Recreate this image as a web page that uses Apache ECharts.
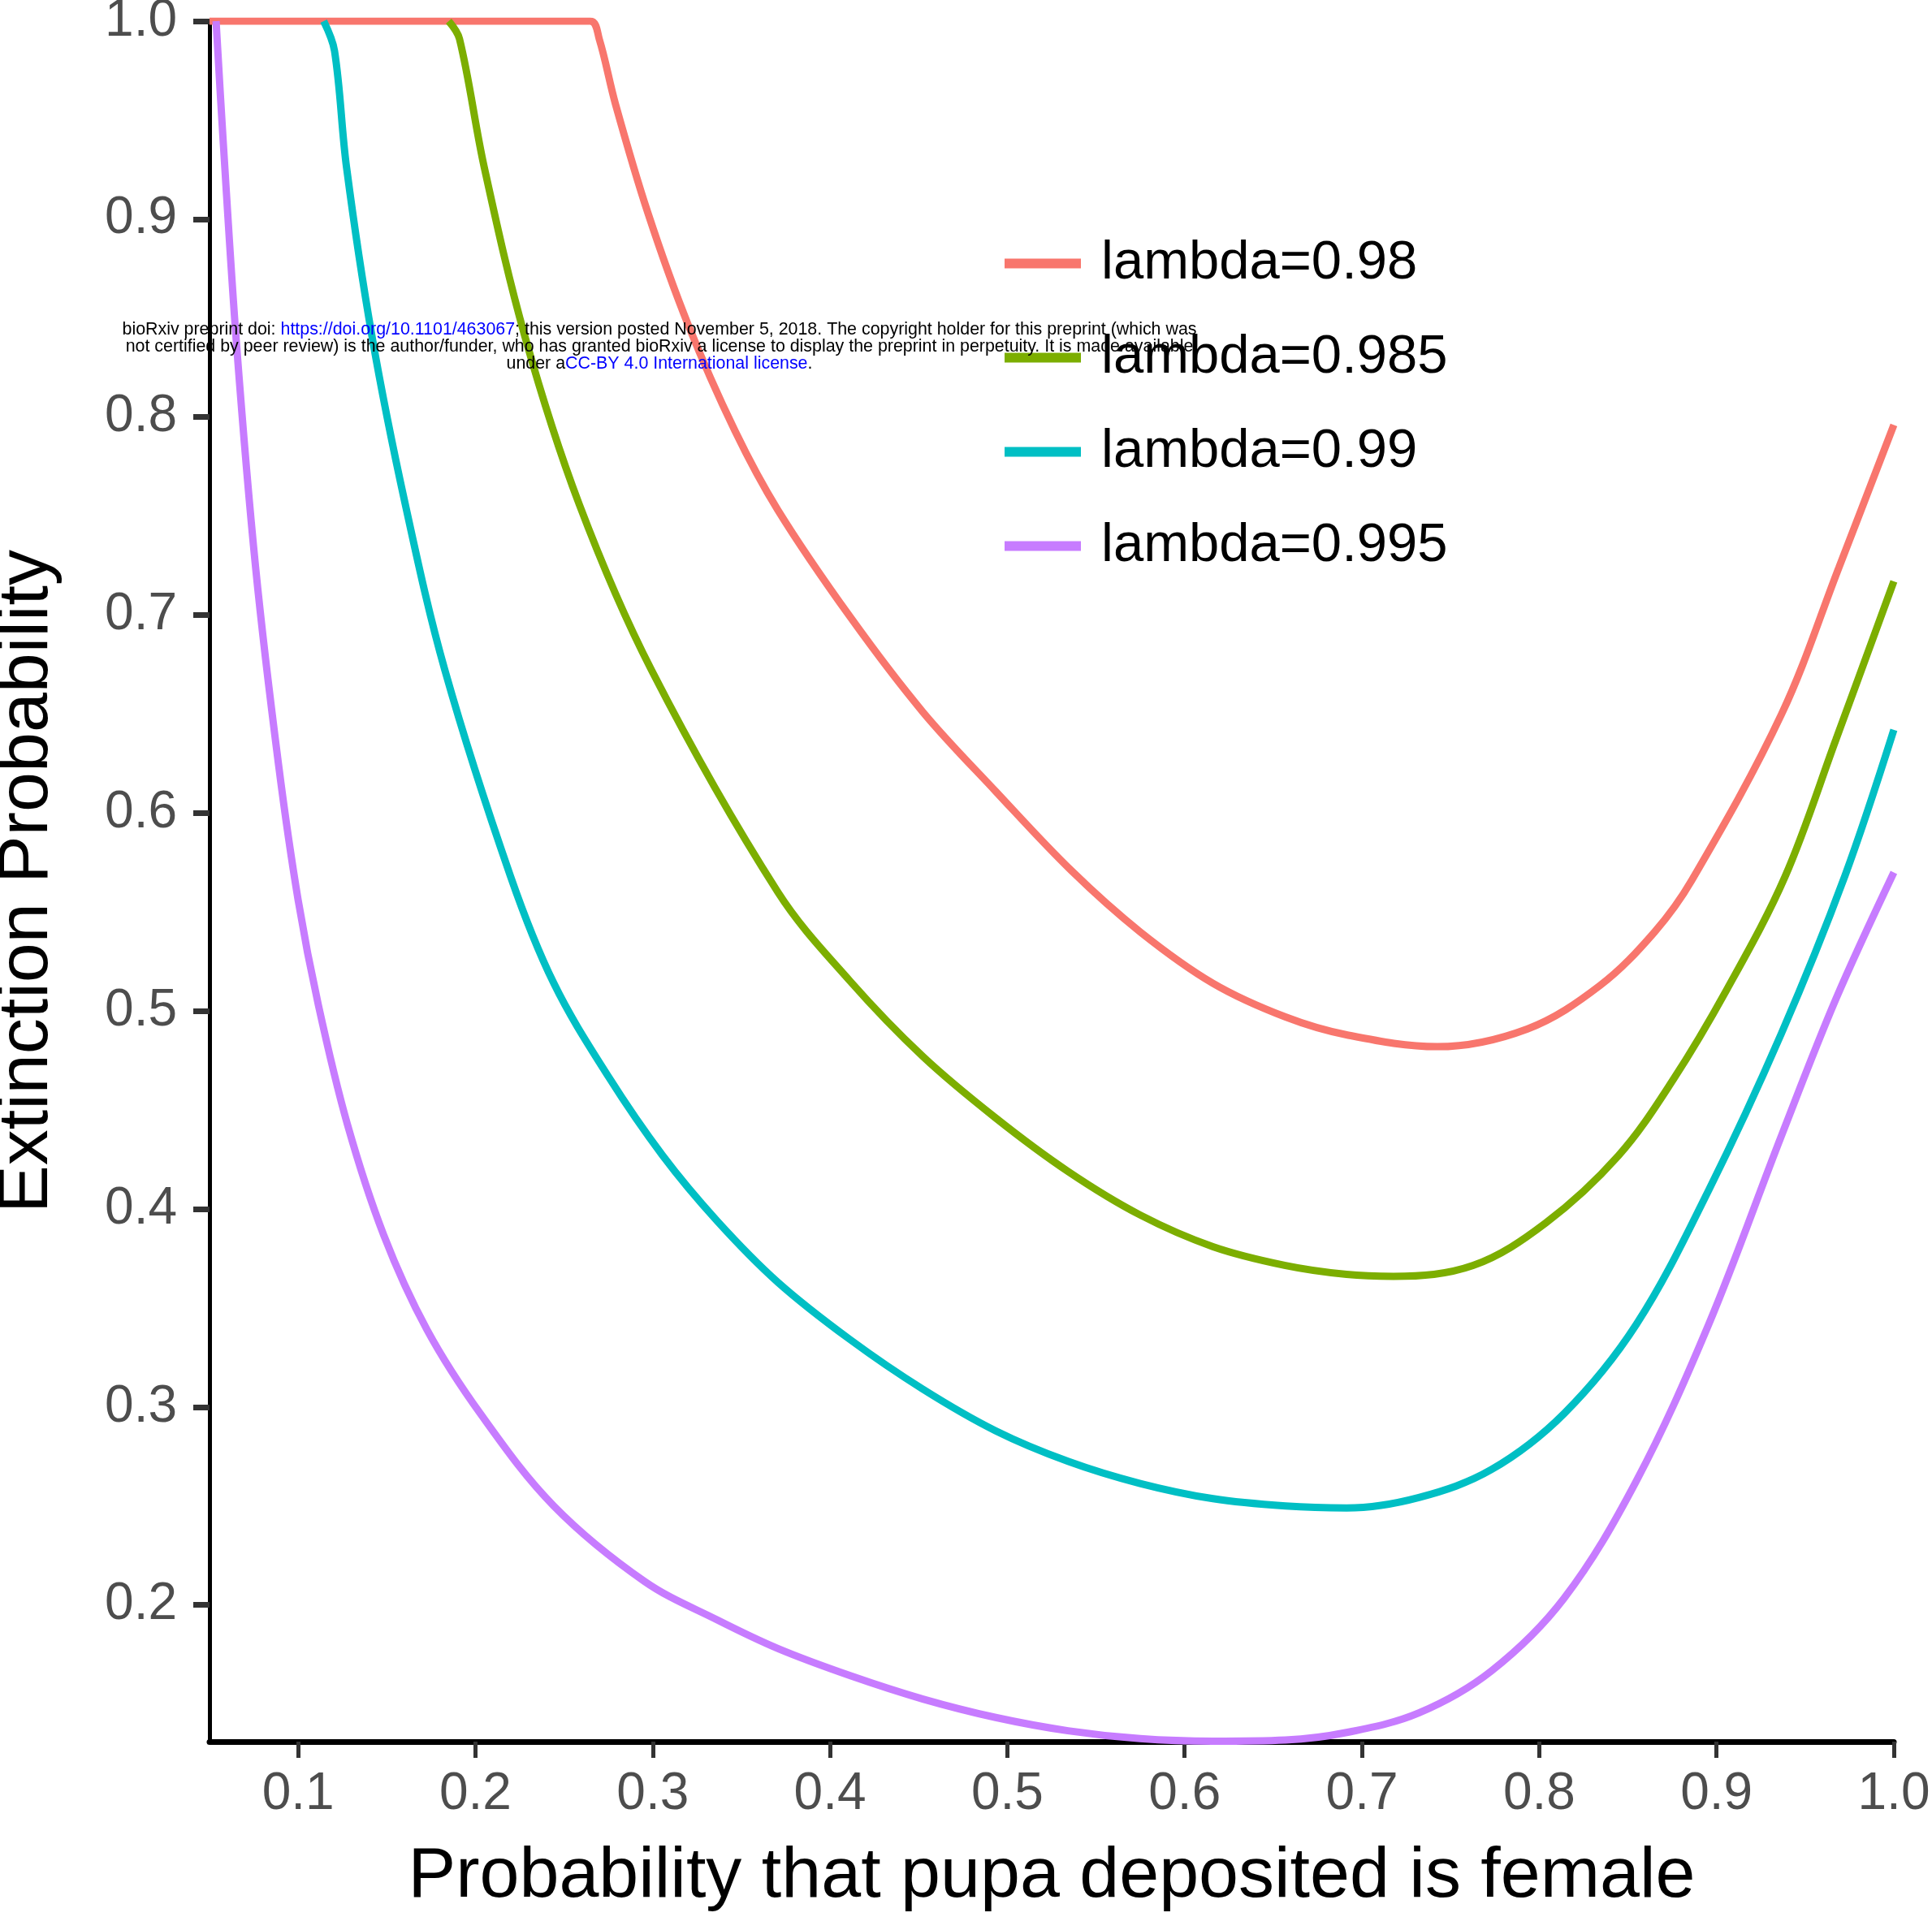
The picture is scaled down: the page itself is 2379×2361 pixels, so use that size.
<!DOCTYPE html>
<html>
<head>
<meta charset="utf-8">
<script src="https://cdn.jsdelivr.net/npm/echarts@6/dist/echarts.min.js"></script>
<style>
  html, body { margin: 0; padding: 0; background: #fff; }
  #chart { width: 2379px; height: 2361px; }
</style>
</head>
<body>
<div id="chart"></div>
<script>
// tick values on both axes
const xTicks = [0.1, 0.2, 0.3, 0.4, 0.5, 0.6, 0.7, 0.8, 0.9, 1.0];
const yTicks = [0.2, 0.3, 0.4, 0.5, 0.6, 0.7, 0.8, 0.9, 1.0];

const seriesNames = ['lambda=0.98', 'lambda=0.985', 'lambda=0.99', 'lambda=0.995'];
const seriesColors = ['#F8766D', '#7CAE00', '#00BFC4', '#C77CFF'];

// lambda = 0.98
const pFemale98 = [0.05, 0.2647, 0.2698, 0.279, 0.2973, 0.3198, 0.3464, 0.3706, 0.4114, 0.4524, 0.4934, 0.536, 0.5749, 0.616, 0.6569, 0.6913, 0.7424, 0.7934, 0.8344, 0.8651, 0.886, 0.9367, 0.969, 1.0];
const extinct98 = [1.0, 1.0, 0.991, 0.958, 0.903, 0.847, 0.793, 0.753, 0.699, 0.651, 0.611, 0.571, 0.540, 0.514, 0.497, 0.488, 0.482, 0.491, 0.513, 0.540, 0.566, 0.650, 0.724, 0.796];

// lambda = 0.985
const pFemale985 = [0.1849, 0.191, 0.205, 0.2278, 0.2585, 0.2994, 0.3706, 0.4114, 0.4524, 0.4934, 0.5342, 0.5749, 0.616, 0.6569, 0.6913, 0.7178, 0.7627, 0.8037, 0.8447, 0.8753, 0.9059, 0.9387, 0.9673, 1.0];
const extinct985 = [1.0, 0.991, 0.926, 0.841, 0.756, 0.672, 0.560, 0.515, 0.477, 0.446, 0.419, 0.397, 0.381, 0.3715, 0.367, 0.366, 0.3715, 0.393, 0.427, 0.465, 0.511, 0.568, 0.637, 0.717];

// lambda = 0.99
const pFemale99 = [0.1144, 0.1205, 0.1273, 0.1416, 0.1604, 0.1828, 0.2198, 0.2442, 0.2749, 0.3056, 0.3363, 0.3706, 0.4114, 0.4524, 0.4934, 0.5342, 0.5749, 0.616, 0.6569, 0.6913, 0.7321, 0.773, 0.814, 0.8548, 0.8956, 0.9366, 0.9723, 1.0];
const extinct99 = [1.0, 0.985, 0.926, 0.841, 0.756, 0.672, 0.568, 0.514, 0.467, 0.427, 0.394, 0.363, 0.334, 0.309, 0.288, 0.2726, 0.2614, 0.2537, 0.250, 0.249, 0.2543, 0.2684, 0.2967, 0.3418, 0.4096, 0.4887, 0.568, 0.642];

// lambda = 0.995
const pFemale995 = [0.0537, 0.0578, 0.0653, 0.076, 0.089, 0.100, 0.1114, 0.1277, 0.1482, 0.1727, 0.2033, 0.2442, 0.2954, 0.3363, 0.3706, 0.4114, 0.4524, 0.4934, 0.5342, 0.5749, 0.616, 0.6569, 0.6913, 0.7321, 0.773, 0.814, 0.8548, 0.8956, 0.9366, 0.9673, 1.0];
const extinct995 = [1.0, 0.938, 0.836, 0.724, 0.624, 0.556, 0.503, 0.443, 0.387, 0.339, 0.296, 0.250, 0.2119, 0.1925, 0.178, 0.1643, 0.1525, 0.1432, 0.1365, 0.1325, 0.1312, 0.1318, 0.1356, 0.1455, 0.1667, 0.2034, 0.2627, 0.3418, 0.437, 0.506, 0.570];

const xs = [pFemale98, pFemale985, pFemale99, pFemale995];
const ys = [extinct98, extinct985, extinct99, extinct995];

const font = '"Liberation Sans", Arial, Helvetica, sans-serif';

const chart = echarts.init(document.getElementById('chart'));

const series = seriesNames.map((name, i) => ({
  name: name,
  type: 'line',
  data: xs[i].map((x, j) => [x, ys[i][j]]),
  showSymbol: false,
  smooth: 0.35,
  lineStyle: { width: 9, color: seriesColors[i] },
  itemStyle: { color: seriesColors[i] },
}));

const option = {
  animation: false,
  backgroundColor: '#fff',
  grid: { left: 258, right: 47, top: 26, bottom: 216, containLabel: false, outerBoundsMode: 'none' },
  legend: {
    orient: 'vertical',
    left: 1232,
    top: 286,
    icon: 'rect',
    itemWidth: 94,
    itemHeight: 12,
    itemGap: 49,
    data: seriesNames,
    textStyle: { fontSize: 67, lineHeight: 67, color: '#000', fontFamily: font, padding: [0, 0, 0, 20] },
  },
  xAxis: {
    type: 'value',
    min: 0.05,
    max: 1.0,
    name: 'Probability that pupa deposited is female',
    nameLocation: 'middle',
    nameGap: 123,
    nameTextStyle: { fontSize: 88, color: '#000', fontFamily: font },
    axisLine: { show: true, onZero: false, lineStyle: { color: '#000', width: 7 } },
    axisTick: { show: true, length: 20, customValues: xTicks, lineStyle: { color: '#333', width: 5 } },
    axisLabel: {
      customValues: xTicks,
      formatter: (v) => v.toFixed(1),
      fontSize: 64,
      color: '#4D4D4D',
      fontFamily: font,
      margin: 33,
    },
    splitLine: { show: false },
  },
  yAxis: {
    type: 'value',
    min: 0.131,
    max: 1.0,
    name: 'Extinction Probability',
    nameLocation: 'middle',
    nameGap: 180,
    nameTextStyle: { fontSize: 88, color: '#000', fontFamily: font },
    axisLine: { show: true, onZero: false, lineStyle: { color: '#000', width: 5 } },
    axisTick: { show: true, length: 20, customValues: yTicks, lineStyle: { color: '#333', width: 7 } },
    axisLabel: {
      customValues: yTicks,
      formatter: (v) => v.toFixed(1),
      fontSize: 64,
      color: '#4D4D4D',
      fontFamily: font,
      margin: 40,
    },
    splitLine: { show: false },
  },
  graphic: [
    {
      type: 'text', x: 812, y: 406, z: 100,
      style: {
        text: 'bioRxiv preprint doi: {b|https://doi.org/10.1101/463067}; this version posted November 5, 2018. The copyright holder for this preprint (which was',
        fontSize: 21.4, fontFamily: font, fill: '#000', align: 'center', verticalAlign: 'middle',
        rich: { b: { fill: '#0000FF', fontSize: 21.4, fontFamily: font } },
      },
    },
    {
      type: 'text', x: 812, y: 427, z: 100,
      style: {
        text: 'not certified by peer review) is the author/funder, who has granted bioRxiv a license to display the preprint in perpetuity. It is made available',
        fontSize: 21.4, fontFamily: font, fill: '#000', align: 'center', verticalAlign: 'middle',
      },
    },
    {
      type: 'text', x: 812, y: 448, z: 100,
      style: {
        text: 'under a{b|CC-BY 4.0 International license}.',
        fontSize: 21.4, fontFamily: font, fill: '#000', align: 'center', verticalAlign: 'middle',
        rich: { b: { fill: '#0000FF', fontSize: 21.4, fontFamily: font } },
      },
    },
  ],
  series: series,
};

chart.setOption(option);
</script>
</body>
</html>
